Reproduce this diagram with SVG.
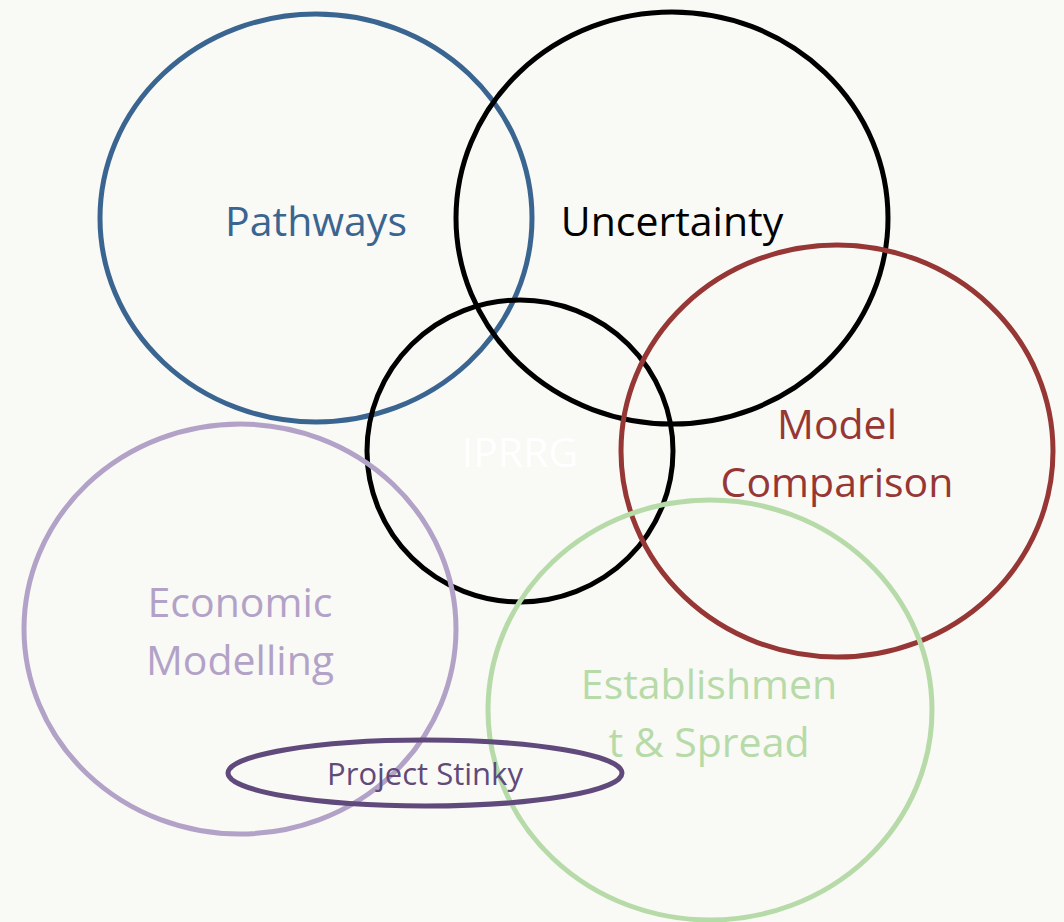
<svg xmlns="http://www.w3.org/2000/svg" width="1064" height="922" viewBox="0 0 1064 922">
<style>
.c{fill:none;stroke-width:5}
.t{font-family:"Open Sans","Noto Sans",sans-serif;font-size:41px;text-anchor:middle}
</style>
<rect width="1064" height="922" fill="#f9f9f5"/>
<g id="pathways"><ellipse class="c" cx="316" cy="218" rx="216" ry="204" stroke="#3a6591"/><text class="t" x="316" y="236" fill="#3a6591">Pathways</text></g>
<g id="uncertainty"><ellipse class="c" cx="672" cy="218" rx="216" ry="206" stroke="#000"/><text class="t" x="672" y="236" fill="#000">Uncertainty</text></g>
<g id="iprrg"><ellipse class="c" cx="520" cy="451" rx="153" ry="151" stroke="#000"/><text class="t" x="520" y="467" fill="#ffffff">IPRRG</text></g>
<g id="model"><ellipse class="c" cx="837" cy="451" rx="216" ry="206" stroke="#963735"/><text class="t" x="837" y="439" fill="#963735">Model</text><text class="t" x="837" y="497" fill="#963735">Comparison</text></g>
<g id="economic"><ellipse class="c" cx="240" cy="629" rx="216" ry="205" stroke="#b3a2c7"/><text class="t" x="240" y="617" fill="#b3a2c7">Economic</text><text class="t" x="240" y="675" fill="#b3a2c7">Modelling</text></g>
<g id="establishment"><ellipse class="c" cx="710" cy="710" rx="222" ry="210" stroke="#b7dba8"/><text class="t" x="709" y="699" fill="#b7dba8">Establishmen</text><text class="t" x="709" y="757" fill="#b7dba8">t &amp; Spread</text></g>
<g id="stinky"><ellipse class="c" cx="425" cy="773" rx="197" ry="33" stroke="#604a7b"/><text class="t" x="425" y="785" fill="#604a7b" style="font-size:31px">Project Stinky</text></g>
<g id="connectors"/>
</svg>
